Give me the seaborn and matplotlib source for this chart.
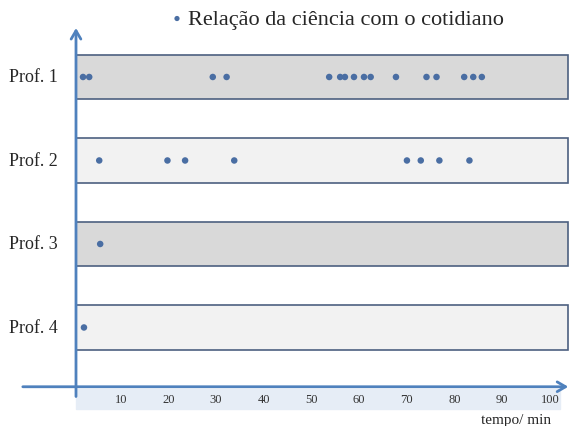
import pandas as pd
import seaborn as sns
import matplotlib.pyplot as plt

# dados: momentos (min) em que cada professor relaciona ciência e cotidiano
profs = ["Prof. 1", "Prof. 2", "Prof. 3", "Prof. 4"]
prof1 = [2.1, 3.4, 29.3, 32.2, 53.7, 56.0, 57.0, 58.9, 61.0, 62.4, 67.7, 74.1, 76.2, 82.0, 83.9, 85.7]
prof2 = [5.5, 19.8, 23.5, 33.8, 70.0, 72.9, 76.8, 83.1]
prof3 = [5.7]
prof4 = [2.3]
xticks = [10, 20, 30, 40, 50, 60, 70, 80, 90, 100]

tempos = [prof1, prof2, prof3, prof4]
df = pd.DataFrame({
    "tempo": [t for ts in tempos for t in ts],
    "prof": [p for p, ts in zip(profs, tempos) for _ in ts],
})
df["linha"] = df["prof"].map({p: i for i, p in enumerate(profs)})

sns.set_style("white")
plt.rcParams["font.family"] = ["Liberation Serif", "DejaVu Serif"]

azul = "#4f81bd"
ponto = "#4a6ea3"

fig = plt.figure(figsize=(5.72, 4.27), dpi=100)
ax = fig.add_axes([0, 0, 1, 1])
ax.set_xlim(-15.3, 104.6)
ax.set_ylim(4.18, -0.934)
ax.axis("off")

# faixas de cada professor
cores = ["#d9d9d9", "#f2f2f2", "#d9d9d9", "#f2f2f2"]
ax.barh(range(len(profs)), 103.2, left=0.6, height=0.53, color=cores,
        edgecolor="#4d6080", linewidth=1.2, zorder=1)

sns.scatterplot(data=df, x="tempo", y="linha", ax=ax, color=ponto, s=22,
                edgecolor="none", zorder=3, label="Relação da ciência com o cotidiano")

for i, p in enumerate(profs):
    ax.text(-8.3, i, p, ha="center", va="center", fontsize=13)

# eixos com setas
seta = dict(arrowstyle="->,head_length=0.6,head_width=0.35", color=azul, lw=2)
ax.annotate("", xy=(104.4, 3.71), xytext=(-11.1, 3.71), arrowprops=seta,
            annotation_clip=False)
ax.annotate("", xy=(0.63, -0.62), xytext=(0.63, 3.86), arrowprops=seta,
            annotation_clip=False)

# faixa das marcas do eixo x
ax.add_patch(plt.Rectangle((0.63, 3.74), 101.5, 0.24, color="#e6edf6", zorder=0))
for t in xticks:
    ax.text(t, 3.86, str(t), ha="center", va="center", fontsize=9, color="#333333")
ax.text(92.9, 4.10, "tempo/ min", ha="center", va="center", fontsize=11)

ax.legend(loc="center left", bbox_to_anchor=(0.290, 0.953), frameon=False,
          fontsize=16, handlelength=1.0, handletextpad=0.0, borderpad=0,
          borderaxespad=0, markerscale=0.8)

fig.savefig("out.png", dpi=100)
